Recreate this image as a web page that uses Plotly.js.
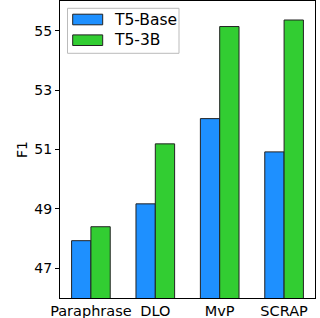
<!DOCTYPE html>
<html>
<head>
<meta charset="utf-8">
<script src="https://cdn.plot.ly/plotly-3.0.1.min.js"></script>
<style>html,body{margin:0;padding:0;background:#fff;}#chart{width:320px;height:318px;}</style>
</head>
<body>
<div id="chart"></div>
<script>
const categories = ["Paraphrase", "DLO", "MvP", "SCRAP"];
const seriesNames = ["T5-Base", "T5-3B"];
const t5Base = [47.93, 49.17, 52.04, 50.92];
const t5_3B = [48.40, 51.19, 55.14, 55.36];
const yTicks = [47, 49, 51, 53, 55];
const colors = ["#1E90FF", "#32CD32"];

const font = {family: "DejaVu Sans", size: 14, color: "#000"};
const bigFont = {family: "DejaVu Sans", size: 14.5, color: "#000"};
const legFont = {family: "DejaVu Sans", size: 15.5, color: "#000"};
const xIdx = categories.map((c, i) => i);

const traces = [
  {type: "bar", name: seriesNames[0], x: xIdx, y: t5Base, base: 0,
   marker: {color: colors[0], line: {color: "#222", width: 1}}},
  {type: "bar", name: seriesNames[1], x: xIdx, y: t5_3B, base: 0,
   marker: {color: colors[1], line: {color: "#222", width: 1}}}
];

// Plot area in pixels: left 60, right 315, top 1, bottom 298
const L = 60, R = 315, T = 1, B = 298;
const px = v => (v - L) / (R - L);
const py = v => (B - v) / (B - T);

const shapes = [
  {type: "rect", xref: "paper", yref: "paper", x0: px(67.5), x1: px(179), y0: py(53.3), y1: py(8.3),
   line: {color: "#bbb", width: 1}, fillcolor: "rgba(255,255,255,0.8)", layer: "above"}
];
const annotations = [];
const rowsY = [19.5, 40.2];
seriesNames.forEach((n, i) => {
  shapes.push({type: "rect", xref: "paper", yref: "paper", x0: px(72.7), x1: px(102.7),
    y0: py(rowsY[i] + 5.3), y1: py(rowsY[i] - 5.3), line: {color: "#222", width: 1},
    fillcolor: colors[i], layer: "above"});
  annotations.push({xref: "paper", yref: "paper", x: px(112), y: py(rowsY[i]),
    xanchor: "left", yanchor: "middle", text: n, showarrow: false, font: legFont});
});

const layout = {
  width: 320, height: 318,
  margin: {l: L, r: 320 - R, t: T, b: 318 - B},
  paper_bgcolor: "#fff", plot_bgcolor: "#fff",
  font: font,
  barmode: "group", bargap: 0.4, bargroupgap: 0,
  showlegend: false,
  shapes: shapes, annotations: annotations,
  xaxis: {range: [-0.48, 3.48], tickvals: xIdx, ticktext: categories,
          showline: true, mirror: true, linecolor: "#000", linewidth: 1,
          ticks: "", showgrid: false, zeroline: false, fixedrange: true,
          tickfont: bigFont},
  yaxis: {range: [46, 56], tickvals: yTicks, ticks: "outside", ticklen: 4,
          tickcolor: "#000", showline: true, mirror: true, linecolor: "#000",
          linewidth: 1, showgrid: false, zeroline: false, tickfont: font,
          title: {text: "F1", font: font, standoff: 3}}
};

Plotly.newPlot("chart", traces, layout, {displayModeBar: false, staticPlot: true});
</script>
</body>
</html>
